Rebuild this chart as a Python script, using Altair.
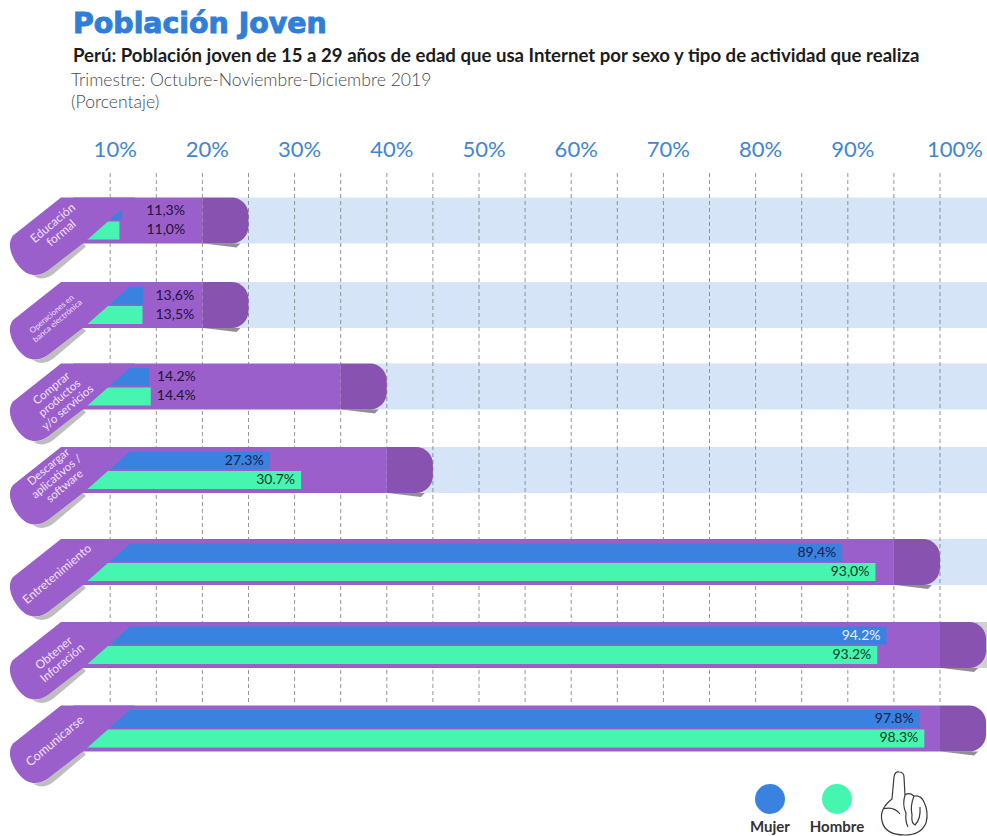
import math

import altair as alt
import pandas as pd

# Internet use among young people, by activity and sex (percent)
categories = ["Educación\nformal", "Operaciones en\nbanca electrónica", "Comprar\nproductos\ny/o servicios",
              "Descargar\naplicativos /\nsoftware", "Entretenimiento", "Obtener\nInforación", "Comunicarse"]
mujer = [11.3, 13.6, 14.2, 27.3, 89.4, 94.2, 97.8]
hombre = [11.0, 13.5, 14.4, 30.7, 93.0, 93.2, 98.3]
mujer_text = ["11,3%", "13,6%", "14.2%", "27.3%", "89,4%", "94.2%", "97.8%"]
hombre_text = ["11,0%", "13,5%", "14.4%", "30.7%", "93,0%", "93.2%", "98.3%"]
band_end = [25, 25, 40, 45, 100, 105, 105]
tick_values = [10, 20, 30, 40, 50, 60, 70, 80, 90, 100]
grid_values = [10, 15, 20, 25, 30, 35, 40, 45, 50, 55, 60, 65, 70, 75, 80, 85, 90, 95, 100]

W, H = 987, 836
FONT = "Lato"
PURPLE, CAP = "#9b5fcc", "#8852b0"
BLUE, GREEN = "#3a82e0", "#45f5b0"
TRACK = "#d5e4f6"
SCALE_END = 105.1

x_scale = alt.Scale(domain=[0, 100], range=[18, 940], clamp=False)
y_scale = alt.Scale(domain=[0, H], range=[0, H])
row_centre = [220.5, 305, 386.5, 470, 562, 645, 728.5]

rows = pd.DataFrame({
    "cat": categories, "y": row_centre, "end": band_end,
    "mujer": mujer, "hombre": hombre, "mt": mujer_text, "ht": hombre_text,
})
rows["top"] = rows.y - 23
rows["bot"] = rows.y + 23
rows["cap"] = rows.end - 5
rows["start"] = 6
rows["zero"] = 0
rows["m0"] = rows.y - 18.5
rows["m1"] = rows.y - 0.5
rows["h0"] = rows.y + 1
rows["h1"] = rows.y + 19
rows["my"] = rows.y - 9.5
rows["hy"] = rows.y + 9.5

X = lambda f: alt.X(f, type="quantitative", scale=x_scale, axis=None)
X2 = lambda f: alt.X2(f)
Y = lambda f: alt.Y(f, type="quantitative", scale=y_scale, axis=None)
Y2 = lambda f: alt.Y2(f)


def band(data, x, x2, y, y2, color, **kw):
    return alt.Chart(data).mark_bar(color=color, **kw).encode(x=X(x), x2=X2(x2), y=Y(y), y2=Y2(y2))


def static_text(text, x, y, size, color, align="left", **kw):
    kw.setdefault("font", FONT)
    return alt.Chart(pd.DataFrame({"t": [text]})).mark_text(
        align=align, baseline="alphabetic", fontSize=size, color=color, **kw
    ).encode(text="t:N", x=alt.value(x), y=alt.value(y))


# Pale tracks behind the bands, grey behind the sixth one
tracks = rows.iloc[:5].assign(right=SCALE_END, left=rows.end.iloc[:5] - 2)
track_layer = band(tracks, "left", "right", "top", "bot", TRACK)
grey_layer = band(rows.iloc[[5]].assign(left=102, right=SCALE_END), "left", "right", "top", "bot", "#cfd1ce")

# Dashed guides every 5 points
grid = alt.Chart(pd.DataFrame({"v": grid_values})).mark_rule(
    color="#7c7c7c", strokeWidth=1, strokeDash=[4, 3], opacity=0.8
).encode(x=X("v"), y=alt.value(173), y2=alt.value(705))

# Column headings
tick_df = pd.DataFrame({"v": tick_values, "t": [f"{v}%" for v in tick_values]})
tick_style = dict(align="center", baseline="alphabetic", fontSize=22, font=FONT, color="#3f86d0")
ticks = alt.Chart(tick_df[tick_df.v < 100]).mark_text(dx=5, **tick_style).encode(
    x=X("v"), y=alt.value(157), text="t:N")
tick_last = alt.Chart(tick_df[tick_df.v == 100]).mark_text(dx=15, **tick_style).encode(
    x=X("v"), y=alt.value(157), text="t:N")

# Purple band with a darker rounded cap
body = band(rows, "start", "cap", "top", "bot", PURPLE)
cap = band(rows, "cap", "end", "top", "bot", CAP, cornerRadiusTopRight=17, cornerRadiusBottomRight=17)
WEDGE = "M-45,23 L-8,23 L-12,27 Z"
wedge = alt.Chart(rows).mark_point(shape=WEDGE, size=4, filled=True, color="#555555", opacity=0.65).encode(
    x=X("end"), y=Y("y"))

# Values by sex
bar_m = band(rows, "start", "mujer", "m0", "m1", BLUE)
bar_h = band(rows, "start", "hombre", "h0", "h1", GREEN)

# Slanted tab that carries the activity name
TAB = "M43,-23 L117,-23 L65,23 L30,50 C20,57 10,56 2,47 C-6,38 -12,24 -5,15 Z"
TAB_SHADE = "M65,23 L30,50 C25,54 20,55 15,55 C22,60 30,58 36,53 L68,26 Z"
tab_shadow = alt.Chart(rows).mark_point(
    shape=TAB_SHADE, size=4, filled=True, color="#6e6e6e", opacity=0.45).encode(x=X("zero"), y=Y("y"))
tab = alt.Chart(rows).mark_point(shape=TAB, size=4, filled=True, color=PURPLE, opacity=1).encode(
    x=X("zero"), y=Y("y"))


def tab_label(i, size, across, down):
    # Text offsets follow the text's own rotation, so turn the wanted shift by the same angle;
    # each line of the name is its own mark, stacked around the centre of the block
    c, s = math.cos(math.radians(40)), math.sin(math.radians(40))
    lines = categories[i].split("\n")
    marks = []
    for n, line in enumerate(lines):
        stack = (n - (len(lines) - 1) / 2) * (size + 1)
        marks.append(alt.Chart(rows.iloc[[i]]).mark_text(
            align="center", baseline="middle", angle=320, fontSize=size, font=FONT, color="#efe3f8",
            text=line, dx=across * c - down * s, dy=across * s + down * c + stack
        ).encode(x=X("zero"), y=Y("y")))
    return marks


tab_labels = (
    tab_label(0, 12, 39, 7.5)
    + tab_label(1, 8, 37, 13)
    + tab_label(2, 11.5, 42, 12)
    + tab_label(3, 11.5, 39, 7)
    + tab_label(4, 12, 39, 12)
    + tab_label(5, 12, 40, 13)
    + tab_label(6, 12.5, 37, 12.5)
)


# Percentages beside or inside the bars
def value_text(idx, field_x, field_y, field_t, color, align, dx):
    return alt.Chart(rows.iloc[idx]).mark_text(
        align=align, baseline="middle", fontSize=14, font=FONT, color=color, dx=dx
    ).encode(x=X(field_x), y=Y(field_y), text=f"{field_t}:N")


NAVY, FOREST = "#15204f", "#0f3a2a"
values = [
    value_text([0], "mujer", "my", "mt", "#1d1238", "left", 24),
    value_text([0], "hombre", "hy", "ht", "#1d1238", "left", 27),
    value_text([1], "mujer", "my", "mt", "#1d1238", "left", 12),
    value_text([1], "hombre", "hy", "ht", "#1d1238", "left", 13),
    value_text([2], "mujer", "my", "mt", "#1d1238", "left", 8),
    value_text([2], "hombre", "hy", "ht", "#1d1238", "left", 6),
    value_text([3, 4, 6], "mujer", "my", "mt", NAVY, "right", -6),
    value_text([3, 4, 6], "hombre", "hy", "ht", FOREST, "right", -6),
    value_text([5], "mujer", "my", "mt", "#e8f1fb", "right", -6),
    value_text([5], "hombre", "hy", "ht", FOREST, "right", -6),
]

# Headings
heads = [
    static_text("Población Joven", 73, 33, 28.4, "#2f7fd8", font="DejaVu Sans", fontWeight="bold",
                stroke="#2f7fd8", strokeWidth=1),
    static_text("Perú: Población joven de 15 a 29 años de edad que usa Internet por sexo y tipo de actividad que realiza",
                73, 62, 18.6, "#1c1c1c", fontWeight="bold"),
    static_text("Trimestre: Octubre-Noviembre-Diciembre 2019", 71, 86, 17.6, "#4a4a4a", fontWeight=300),
    static_text("(Porcentaje)", 71, 108, 17.6, "#4a4a4a", fontWeight=300),
]


# Key for the two series
def key_entry(name, colour, px):
    dot = alt.Chart(pd.DataFrame({"n": [name]})).mark_point(
        filled=True, size=900, opacity=1, color=colour
    ).encode(x=alt.value(px), y=alt.value(799))
    return [dot, static_text(name, px, 832, 15, "#333333", align="center", fontWeight="bold")]


key_marks = key_entry("Mujer", BLUE, 770) + key_entry("Hombre", GREEN, 837)

# Pointing hand
HAND = ("M-11,-4 L-9,-26 Q-8,-32 -4,-31 Q1,-31 1,-26 L2,-8 Q6,-11 11,-7 Q18,-8 21,-1 Q26,9 23,20 "
        "Q18,32 2,32 Q-18,32 -21,18 Q-24,6 -11,-4 Z "
        "M-20,6 Q-9,3 -3,11 M2,-8 Q-1,2 3,10 Q2,18 5,24 M11,-7 Q7,3 9,12 Q8,20 12,22 Q18,16 17,4")
hand = alt.Chart(pd.DataFrame({"n": ["hand"]})).mark_point(
    shape=HAND, size=4, filled=True, fill="#ffffff", stroke="#3a3a3a", strokeWidth=1.2, opacity=1
).encode(x=alt.value(903), y=alt.value(803))

chart = alt.layer(
    track_layer, grey_layer, grid, *heads, ticks, tick_last,
    body, cap, wedge, bar_m, bar_h, tab_shadow, tab, *tab_labels, *values, *key_marks, hand,
).properties(
    width=W, height=H, padding=0, autosize=alt.AutoSizeParams(type="none"), background="#ffffff"
).configure_view(stroke=None)

chart.save("out.html", embed_options={"renderer": "svg", "actions": False})
